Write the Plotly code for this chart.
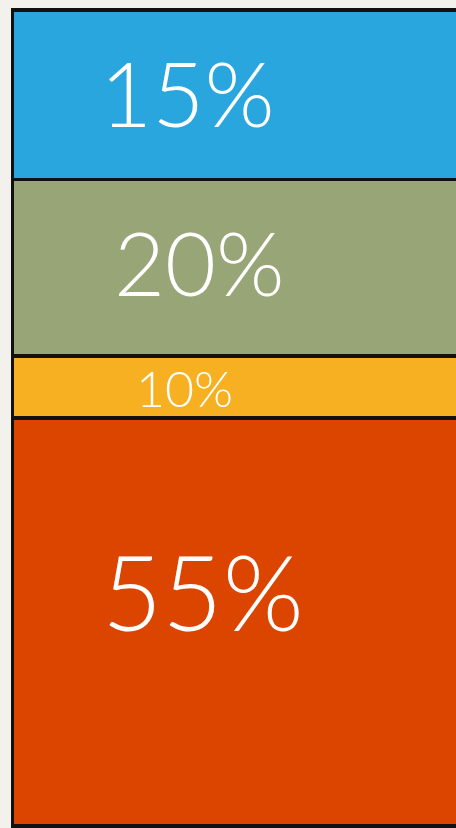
import plotly.graph_objects as go

# Segments, bottom to top, as drawn in the sketch
segments = ["Red", "Yellow", "Green", "Blue"]
drawn_share = [50.0, 7.6, 21.6, 20.8]          # share of the bar's height as drawn
labels = ["55%", "10%", "20%", "15%"]           # handwritten labels
colors = ["#dc4500", "#f6b021", "#98a577", "#29a6de"]
label_x = [-0.092, -0.131, -0.099, -0.126]
label_y = [28.9, 53.7, 69.1, 89.9]
label_size = [104, 50, 88, 90]

fig = go.Figure()
for name, v, c in zip(segments, drawn_share, colors):
    fig.add_trace(go.Bar(
        x=[0], y=[v], name=name, width=1,
        marker=dict(color=c, line=dict(color="#111111", width=3.5)),
        hoverinfo="skip", showlegend=False,
    ))

for t, x, y, s in zip(labels, label_x, label_y, label_size):
    fig.add_annotation(x=x, y=y, text=t, showarrow=False,
                       font=dict(family="Lato", size=s, color="white", weight=300))

fig.update_layout(
    barmode="stack",
    width=456, height=828,
    margin=dict(l=8, r=0, t=8, b=0),
    paper_bgcolor="#f2f1ec",
    plot_bgcolor="#f2f1ec",
    xaxis=dict(range=[-0.51, 0.45], visible=False, fixedrange=True),
    yaxis=dict(range=[-0.25, 100.24], visible=False, fixedrange=True),
)

fig.write_html(
    "out.html",
    config={"displayModeBar": False},
    post_script="document.body.style.margin='0';document.body.style.overflow='hidden';",
)
